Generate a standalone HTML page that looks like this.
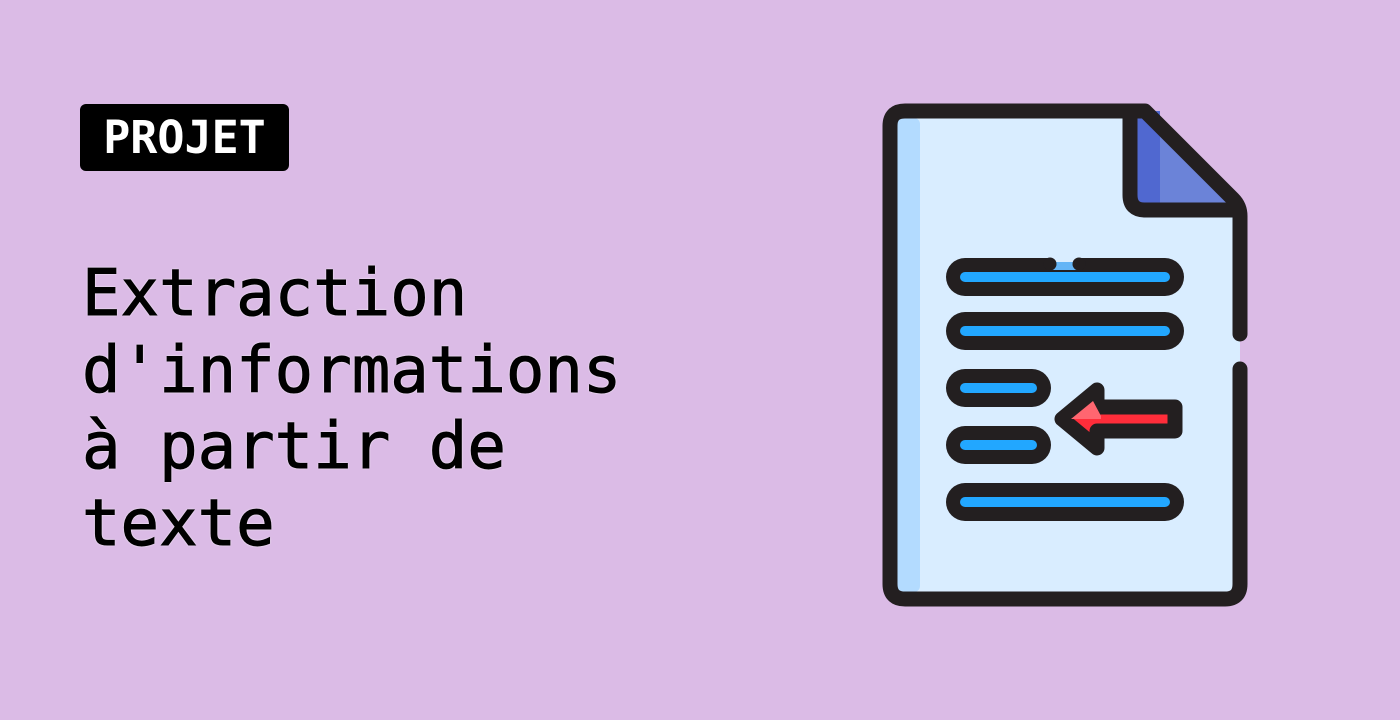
<!DOCTYPE html>
<html><head><meta charset="utf-8"><style>
html,body{margin:0;padding:0}
body{width:1400px;height:720px;background:#dbbbe6;position:relative;overflow:hidden;font-family:"DejaVu Sans Mono","Liberation Mono",monospace}
.badge{position:absolute;left:80px;top:104px;width:209px;height:67px;background:#000;border-radius:6px;color:#fff;font-weight:bold;font-size:45px;line-height:67px;text-align:center}
.title{position:absolute;left:82px;top:256px;font-size:64px;line-height:76.5px;color:#000;white-space:pre;-webkit-text-stroke:1px #000;text-shadow:0 0 2px #fff,0 0 2px rgba(255,255,255,.6)}
svg{position:absolute;left:0;top:0}
</style></head><body>
<div class="badge">PROJET</div>
<div class="title">Extraction
d'informations
à partir de
texte</div>
<svg width="1400" height="720" viewBox="0 0 1400 720">
<path d="M905,111 L1145,111 L1233,199 Q1240,206 1240,216 L1240,584 Q1240,599 1225,599 L905,599 Q890,599 890,584 L890,126 Q890,111 905,111 Z" fill="#d9edff"/>
<rect x="897" y="118" width="23" height="474" rx="6" fill="#b3dbff"/>
<path d="M1130,111 L1145,111 L1240,206 L1240,210 L1145,210 Q1130,210 1130,195 Z" fill="#6b83d8"/>
<path d="M1130,111 L1160,111 L1160,210 L1145,210 Q1130,210 1130,195 Z" fill="#5068d0"/>
<path d="M1240,334 L1240,216 Q1240,206 1233,199 L1145,111 L905,111 Q890,111 890,126 L890,584 Q890,599 905,599 L1225,599 Q1240,599 1240,584 L1240,369" fill="none" stroke="#231f20" stroke-width="15" stroke-linecap="round" stroke-linejoin="round"/>
<path d="M1130,111 L1130,195 Q1130,210 1145,210 L1240,210" fill="none" stroke="#231f20" stroke-width="15" stroke-linejoin="round"/>
<g stroke-linecap="round">
<line x1="965" y1="277" x2="1165" y2="277" stroke="#231f20" stroke-width="38"/>
<line x1="965" y1="331" x2="1165" y2="331" stroke="#231f20" stroke-width="38"/>
<line x1="965" y1="331" x2="1165" y2="331" stroke="#22a7ff" stroke-width="10"/>
<line x1="965" y1="388" x2="1032" y2="388" stroke="#231f20" stroke-width="38"/>
<line x1="965" y1="388" x2="1032" y2="388" stroke="#22a7ff" stroke-width="10"/>
<line x1="965" y1="445" x2="1032" y2="445" stroke="#231f20" stroke-width="38"/>
<line x1="965" y1="445" x2="1032" y2="445" stroke="#22a7ff" stroke-width="10"/>
<line x1="965" y1="502" x2="1165" y2="502" stroke="#231f20" stroke-width="38"/>
<line x1="965" y1="502" x2="1165" y2="502" stroke="#22a7ff" stroke-width="10"/>
</g>
<rect x="1050" y="256" width="29" height="13" fill="#d9edff"/>
<rect x="1050" y="262" width="29" height="8" fill="#64b5f6"/>
<circle cx="1050" cy="264" r="6.5" fill="#231f20"/>
<circle cx="1079" cy="264" r="6.5" fill="#231f20"/>
<line x1="965" y1="277" x2="1165" y2="277" stroke="#22a7ff" stroke-width="10" stroke-linecap="round"/>
<path d="M1062,419 L1097,390 L1097,407 L1175,407 L1175,431 L1097,431 L1097,448 Z" fill="#ff2d3a" stroke="#231f20" stroke-width="15" stroke-linejoin="round"/>
<path d="M1071,419 L1093,401 L1101,416 L1101,419 Z" fill="#ff6670"/>
</svg>
</body></html>
